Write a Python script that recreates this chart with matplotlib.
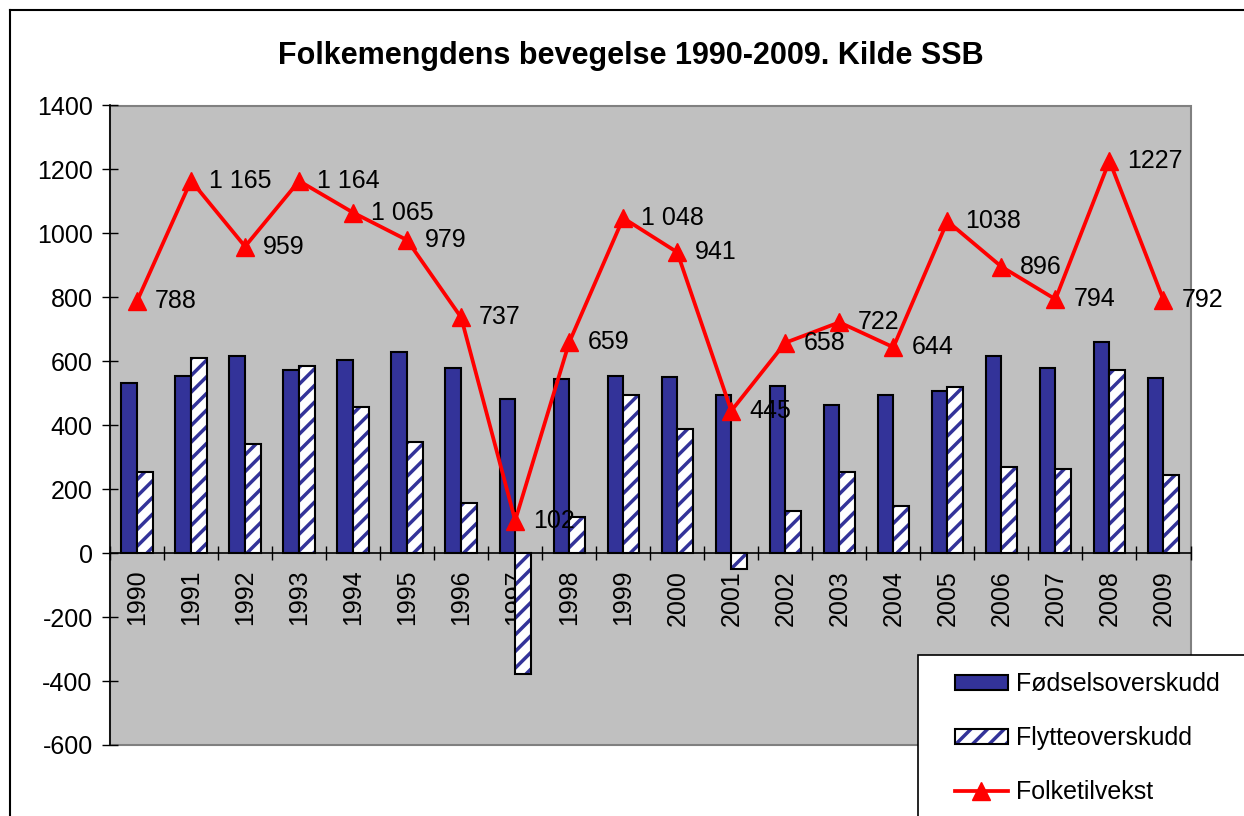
import numpy as np
import matplotlib
matplotlib.use("Agg")
import matplotlib.pyplot as plt
from matplotlib.patches import Patch, Rectangle
from matplotlib.lines import Line2D

years = [str(y) for y in range(1990, 2010)]
fodsel = [531, 555, 617, 574, 604, 628, 579, 482, 544, 555,
          552, 494, 524, 463, 494, 507, 617, 579, 659, 549]
flytte = [255, 609, 342, 586, 457, 348, 158, -378, 114, 494,
          389, -49, 133, 255, 146, 519, 269, 263, 573, 244]
tilvekst = [788, 1165, 959, 1164, 1065, 979, 737, 102, 659, 1048,
            941, 445, 658, 722, 644, 1038, 896, 794, 1227, 792]
tilvekst_labels = ["788", "1 165", "959", "1 164", "1 065", "979", "737", "102", "659", "1 048",
                   "941", "445", "658", "722", "644", "1038", "896", "794", "1227", "792"]

plt.rcParams['font.family'] = ['Liberation Sans', 'DejaVu Sans']
plt.rcParams['hatch.linewidth'] = 2.5
plt.rcParams['axes.unicode_minus'] = False

W, H = 1244, 816
fig = plt.figure(figsize=(W / 100, H / 100), dpi=100)
fig.set_facecolor("w")
ax = fig.add_axes([110 / W, 1 - 745 / H, (1190.5 - 110) / W, (745 - 105.5) / H])

x = np.arange(len(years))
bw = 0.29
navy = '#333399'

ax.bar(x - bw / 2, fodsel, width=bw, color=navy, edgecolor='black', linewidth=1.5, zorder=2)
ax.bar(x + bw / 2, flytte, width=bw, color='white', edgecolor=navy, hatch='//', linewidth=0, zorder=2)
ax.bar(x + bw / 2, flytte, width=bw, fill=False, edgecolor='black', linewidth=1.5, zorder=3)

ax.plot(x, tilvekst, color='red', linewidth=2.7, marker='^', markersize=13, zorder=4)
for xi, v, lab in zip(x, tilvekst, tilvekst_labels):
    ax.annotate(lab, (xi, v), xytext=(13, 0), textcoords='offset points',
                ha='left', va='center', fontsize=18, zorder=5)

# axes styling
ax.set_facecolor('#C0C0C0')
ax.set_xlim(-0.5, len(years) - 0.5)
ax.set_ylim(-600, 1400)
ax.set_yticks(np.arange(-600, 1401, 200))
ax.tick_params(axis='y', direction='inout', length=11, width=1, labelsize=18, pad=7)
ax.spines['bottom'].set_position(('data', 0))
ax.spines['top'].set_visible(False)
ax.spines['right'].set_visible(False)
ax.spines['left'].set_linewidth(1.2)
ax.spines['bottom'].set_linewidth(1.2)
ax.set_xticks(x)
ax.set_xticklabels(years, rotation=90, fontsize=18, va='top')
ax.tick_params(axis='x', which='major', length=0, pad=12)
ax.set_xticks(np.arange(-0.5, len(years), 1), minor=True)
ax.tick_params(axis='x', which='minor', direction='inout', length=10, width=1)
ax.add_patch(Rectangle((0, 0), 1, 1, transform=ax.transAxes, fill=False,
                       edgecolor='#808080', linewidth=1.5, zorder=1, clip_on=False))

# legend: white box running off the page, entries placed inside it
fig.add_artist(Rectangle((918 / W, -0.05), 0.5, 1 - 655 / H + 0.05, transform=fig.transFigure,
                         facecolor='white', edgecolor='black', linewidth=1.2, zorder=5))
h_fod = Patch(facecolor=navy, edgecolor='black', linewidth=1.5)
h_fly = (Patch(facecolor='white', edgecolor=navy, hatch='//', linewidth=0),
         Patch(fill=False, edgecolor='black', linewidth=1.5))
h_til = Line2D([], [], color='red', linewidth=2.7, marker='^', markersize=13)
leg = fig.legend([h_fod, h_fly, h_til], ['Fødselsoverskudd', 'Flytteoverskudd', 'Folketilvekst'],
                 loc='upper left', bbox_to_anchor=(955 / W, 1 - 672 / H),
                 bbox_transform=fig.transFigure, borderaxespad=0, borderpad=0, fontsize=18,
                 frameon=False, labelspacing=1.2, handlelength=2.1, handleheight=0.55,
                 handletextpad=0.35)
leg.set_zorder(6)

# title and outer frame
fig.text(631 / W, 1 - 56 / H, 'Folkemengdens bevegelse 1990-2009. Kilde SSB',
         ha='center', va='center', fontsize=22, fontweight='bold')
fig.add_artist(Line2D([10 / W, 1], [1 - 10 / H, 1 - 10 / H], transform=fig.transFigure,
                      color='black', linewidth=1.5))
fig.add_artist(Line2D([10 / W, 10 / W], [0, 1 - 10 / H], transform=fig.transFigure,
                      color='black', linewidth=1.5))

fig.savefig("out.png", dpi=100)
